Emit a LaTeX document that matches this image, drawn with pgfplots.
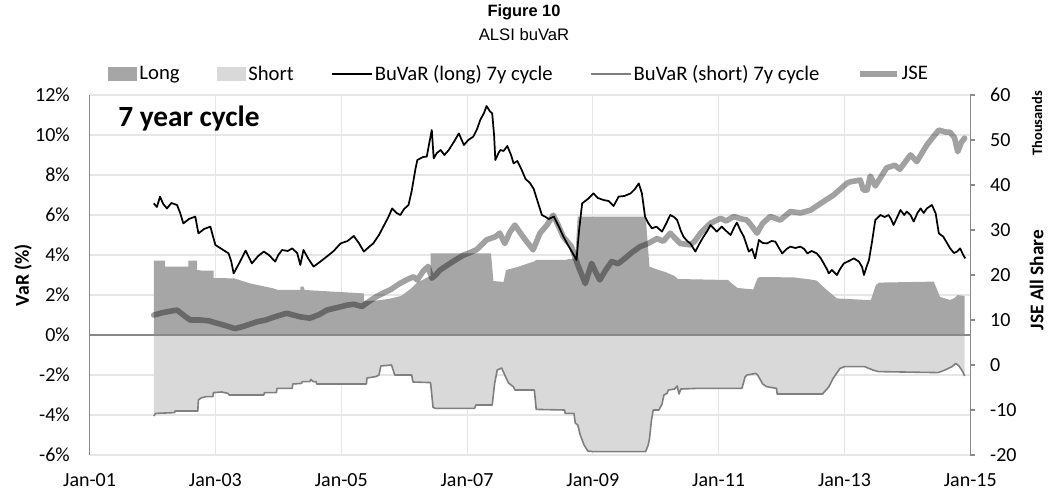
\documentclass[border=0pt]{standalone}
\usepackage{pgfplots}
\pgfplotsset{compat=1.18}
\usepackage{fontspec}
\setmainfont{Carlito}
\newfontfamily\arialfont{Liberation Sans}
\definecolor{longc}{HTML}{A6A6A6}
\definecolor{shortc}{HTML}{D9D9D9}
\definecolor{shortl}{HTML}{7F7F7F}
\definecolor{gridc}{HTML}{E6E6E6}
\definecolor{axisc}{HTML}{898989}
\newcommand\tfont{\fontsize{15}{18}\selectfont}
\newcommand\lfont{\fontsize{15.5}{18}\selectfont}
\begin{document}
\begin{tikzpicture}
\path[use as bounding box] (0pt,0pt) rectangle (786.75pt,-368.25pt);
\begin{axis}[
  at={(67.2pt,-341.25pt)}, anchor=south west,
  width=660.5pt, height=270pt, scale only axis,
  xmin=2001, xmax=2015, ymin=-6, ymax=12,
  axis y line*=left, axis x line*=bottom,
  x axis line style={draw=none},
  y axis line style={axisc, line width=0.8pt},
  xtick={2001,2003,2005,2007,2009,2011,2013,2015},
  xticklabels={Jan-01,Jan-03,Jan-05,Jan-07,Jan-09,Jan-11,Jan-13,Jan-15},
  ytick={-6,-4,-2,0,2,4,6,8,10,12},
  yticklabels={-6\%,-4\%,-2\%,0\%,2\%,4\%,6\%,8\%,10\%,12\%},
  major tick length=0pt,
  grid=major, major grid style={gridc, line width=0.8pt},
  tick label style={font=\tfont, inner sep=0pt},
  yticklabel style={anchor=east, xshift=-14.7pt},
  xticklabel style={anchor=north, yshift=-13.5pt},
  ylabel={VaR (\%)},
  ylabel style={font=\bfseries\fontsize{14.7}{18}\selectfont, at={(axis description cs:-0.0756,0.5)}, anchor=center},
  legend style={at={(0.4876,1.0583)}, anchor=center, draw=none, fill=none,
    legend columns=5, font=\lfont,
    /tikz/every even column/.append style={column sep=26.5pt},
    nodes={inner sep=1.5pt}},
  legend cell align=left,
]
% Long VaR area
\addplot[fill=longc, draw=none, legend image code/.code={\fill[longc] (0pt,-5pt) rectangle (22pt,5pt);}] coordinates {
(2002.02,0) (2002.02,3.72) (2002.20,3.72) (2002.20,3.42) (2002.57,3.42)
(2002.57,3.72) (2002.71,3.72) (2002.71,3.25) (2002.78,3.22) (2002.97,3.22)
(2002.97,2.85) (2003.30,2.83) (2003.55,2.58) (2003.92,2.33) (2004.00,2.25) (2004.35,2.25)
(2004.35,2.42) (2004.40,2.42) (2004.42,2.25) (2004.80,2.18) (2005.36,2.08)
(2005.36,1.70) (2005.55,1.72) (2005.75,1.80) (2005.95,1.95) (2006.10,2.30) (2006.20,2.60) (2006.35,2.85) (2006.42,2.95)
(2006.42,4.08) (2007.38,4.08) (2007.42,2.70) (2007.58,2.65) (2007.62,3.25) (2007.75,3.35)
(2008.06,3.67) (2008.10,3.75) (2008.55,3.75) (2008.72,3.85)
(2008.76,5.92) (2009.84,5.92) (2009.90,3.42) (2010.00,3.30) (2010.15,3.15) (2010.30,2.95)
(2010.35,2.80) (2011.15,2.75) (2011.20,2.60) (2011.30,2.35) (2011.55,2.28) (2011.62,2.85)
(2011.65,2.90) (2012.19,2.88) (2012.45,2.78) (2012.56,2.72) (2012.70,2.30) (2012.88,1.83)
(2013.36,1.75) (2013.42,1.75) (2013.50,2.50) (2013.55,2.62) (2014.42,2.67) (2014.48,2.20)
(2014.52,1.90) (2014.68,1.75) (2014.75,1.85) (2014.80,2.00) (2014.91,1.95) (2014.91,0)
};
\addlegendentry{Long}
% Short VaR area
\addplot[fill=shortc, draw=none, legend image code/.code={\fill[shortc] (0pt,-5pt) rectangle (22pt,5pt);}] coordinates {
(2002.02,0) (2002.02,-4.05) (2002.05,-3.92) (2002.35,-3.88) (2002.36,-3.80) (2002.72,-3.80)
(2002.73,-3.25) (2002.77,-3.15) (2002.85,-3.08) (2002.96,-3.08) (2002.97,-2.88) (2003.10,-2.85)
(2003.20,-2.92) (2003.22,-3.00) (2003.77,-3.00) (2003.78,-2.88) (2003.97,-2.88) (2003.98,-2.67)
(2004.22,-2.67) (2004.23,-2.45) (2004.37,-2.42) (2004.38,-2.33) (2004.50,-2.33) (2004.52,-2.22)
(2004.55,-2.33) (2004.60,-2.33) (2004.61,-2.45) (2005.40,-2.45) (2005.41,-2.15) (2005.55,-2.08)
(2005.60,-2.00) (2005.63,-1.55) (2005.80,-1.50) (2005.85,-2.00) (2006.12,-2.00) (2006.14,-2.35)
(2006.42,-2.38) (2006.46,-3.62) (2006.50,-3.67) (2007.12,-3.67) (2007.14,-3.50) (2007.40,-3.50)
(2007.44,-2.40) (2007.48,-1.75) (2007.55,-1.65) (2007.60,-2.00) (2007.66,-2.40) (2007.74,-2.60)
(2007.76,-2.75) (2008.07,-2.75) (2008.10,-3.72) (2008.55,-3.75) (2008.56,-3.92) (2008.70,-3.92)
(2008.72,-4.40) (2008.76,-4.50) (2008.80,-5.00) (2008.86,-5.50) (2008.92,-5.80) (2009.00,-5.83)
(2009.84,-5.83) (2009.88,-5.50) (2009.90,-5.20) (2009.93,-4.30) (2009.96,-3.75) (2010.05,-3.75)
(2010.10,-3.45) (2010.13,-3.00) (2010.18,-2.92) (2010.20,-2.75) (2010.30,-2.70) (2010.34,-2.55)
(2010.37,-2.95) (2010.40,-2.70) (2010.65,-2.67) (2011.37,-2.67) (2011.42,-2.10) (2011.45,-2.00)
(2011.59,-1.92) (2011.62,-2.00) (2011.70,-2.45) (2011.76,-2.58) (2011.92,-2.67) (2011.93,-2.95)
(2012.65,-2.95) (2012.75,-2.60) (2012.82,-2.17) (2012.90,-1.80) (2012.93,-1.67) (2013.00,-1.58)
(2013.32,-1.58) (2013.45,-1.75) (2013.54,-1.83) (2014.49,-1.88) (2014.60,-1.75) (2014.71,-1.58)
(2014.77,-1.42) (2014.82,-1.55) (2014.88,-1.83) (2014.91,-2.05) (2014.91,0)
};
\addlegendentry{Short}
% zero axis line
\addplot[axisc, line width=0.8pt, forget plot] coordinates {(2001,0) (2015,0)};
% BuVaR long
\addplot[black, line width=1.3pt, line join=round, legend image code/.code={\draw[black, line width=1.3pt] (0pt,0pt) -- (30pt,0pt);}] coordinates {
(2002.02,6.58) (2002.07,6.40) (2002.12,6.92) (2002.17,6.55) (2002.23,6.33) (2002.30,6.60) (2002.39,6.50)
(2002.44,6.10) (2002.49,5.58) (2002.58,5.80) (2002.68,5.92) (2002.73,5.08) (2002.82,5.30)
(2002.92,5.42) (2002.96,4.95) (2003.00,4.50) (2003.10,4.30) (2003.21,4.08) (2003.25,3.70)
(2003.29,3.08) (2003.38,3.60) (2003.48,4.22) (2003.53,3.90) (2003.58,3.58) (2003.68,3.95)
(2003.77,4.17) (2003.85,4.00) (2003.95,3.67) (2004.00,4.00) (2004.06,4.25) (2004.15,4.20)
(2004.22,4.33) (2004.30,4.10) (2004.35,3.50) (2004.40,4.25) (2004.48,3.80) (2004.56,3.42)
(2004.66,3.65) (2004.77,3.92) (2004.88,4.20) (2004.99,4.58) (2005.10,4.70) (2005.20,4.95)
(2005.28,4.60) (2005.36,4.17) (2005.44,4.40) (2005.51,4.58) (2005.60,5.00) (2005.67,5.42)
(2005.75,5.90) (2005.81,6.33) (2005.88,6.10) (2005.94,6.00) (2006.00,6.30) (2006.07,6.50)
(2006.12,7.20) (2006.15,7.75) (2006.18,8.30) (2006.21,8.75) (2006.30,8.90) (2006.36,8.92)
(2006.40,9.60) (2006.44,10.25) (2006.47,8.83) (2006.52,9.10) (2006.58,9.25) (2006.64,9.00)
(2006.71,9.25) (2006.80,9.70) (2006.87,10.08) (2006.95,9.50) (2007.02,9.75) (2007.10,9.92)
(2007.16,10.30) (2007.21,10.75) (2007.27,11.10) (2007.31,11.45) (2007.36,11.20) (2007.40,11.08)
(2007.43,10.00) (2007.45,8.75) (2007.50,9.10) (2007.53,9.25) (2007.58,9.20) (2007.64,9.45)
(2007.70,9.00) (2007.74,8.58) (2007.80,8.70) (2007.87,8.25) (2007.93,7.80) (2008.00,7.60)
(2008.06,7.30) (2008.12,6.70) (2008.19,6.00) (2008.25,5.90) (2008.30,5.80) (2008.38,5.92)
(2008.46,5.42) (2008.52,5.00) (2008.59,4.58) (2008.67,4.15) (2008.74,3.75) (2008.78,5.20)
(2008.83,6.58) (2008.92,6.80) (2009.01,7.08) (2009.08,6.85) (2009.17,6.75) (2009.25,6.70)
(2009.33,6.45) (2009.41,6.92) (2009.50,6.95) (2009.60,7.08) (2009.67,7.30) (2009.73,7.58)
(2009.78,7.08) (2009.83,5.92) (2009.88,5.60) (2009.94,5.33) (2010.01,5.42) (2010.10,5.17)
(2010.17,5.60) (2010.23,6.00) (2010.29,5.90) (2010.34,5.75) (2010.40,5.20) (2010.44,4.92)
(2010.50,4.70) (2010.55,4.58) (2010.63,4.17) (2010.70,4.60) (2010.76,4.92) (2010.82,5.20)
(2010.87,5.50) (2010.97,5.17) (2011.05,5.42) (2011.12,5.20) (2011.19,5.00) (2011.25,5.40)
(2011.29,5.62) (2011.35,5.20) (2011.40,4.92) (2011.48,4.17) (2011.53,4.30) (2011.58,3.83)
(2011.64,4.75) (2011.70,4.60) (2011.77,4.58) (2011.84,4.70) (2011.90,4.67) (2011.95,4.40)
(2012.01,4.08) (2012.08,4.30) (2012.14,4.42) (2012.22,4.35) (2012.30,4.42) (2012.36,4.30)
(2012.41,4.08) (2012.48,4.20) (2012.56,4.08) (2012.62,3.85) (2012.67,3.58) (2012.72,3.30)
(2012.75,3.08) (2012.80,3.25) (2012.88,3.00) (2012.93,3.30) (2012.99,3.58) (2013.07,3.70)
(2013.15,3.83) (2013.23,3.67) (2013.28,3.40) (2013.31,3.00) (2013.35,3.40) (2013.39,3.75)
(2013.44,4.70) (2013.49,5.75) (2013.57,6.00) (2013.64,5.90) (2013.70,6.00) (2013.74,5.80)
(2013.78,5.50) (2013.84,5.90) (2013.89,6.25) (2013.95,6.00) (2013.99,6.17) (2014.05,6.00)
(2014.10,5.67) (2014.16,6.10) (2014.21,6.33) (2014.26,6.10) (2014.31,6.33) (2014.39,6.50)
(2014.45,6.08) (2014.50,5.08) (2014.57,4.92) (2014.63,4.60) (2014.68,4.33) (2014.74,4.10)
(2014.79,4.17) (2014.84,4.33) (2014.88,4.05) (2014.92,3.83)
};
\addlegendentry{BuVaR (long) 7y cycle}
% BuVaR short line
\addplot[shortl, line width=1.2pt, line join=round, legend image code/.code={\draw[shortl, line width=1.2pt] (0pt,0pt) -- (30pt,0pt);}] coordinates {
(2002.02,-4.05) (2002.05,-3.92) (2002.35,-3.88) (2002.36,-3.80) (2002.72,-3.80)
(2002.73,-3.25) (2002.77,-3.15) (2002.85,-3.08) (2002.96,-3.08) (2002.97,-2.88) (2003.10,-2.85)
(2003.20,-2.92) (2003.22,-3.00) (2003.77,-3.00) (2003.78,-2.88) (2003.97,-2.88) (2003.98,-2.67)
(2004.22,-2.67) (2004.23,-2.45) (2004.37,-2.42) (2004.38,-2.33) (2004.50,-2.33) (2004.52,-2.22)
(2004.55,-2.33) (2004.60,-2.33) (2004.61,-2.45) (2005.40,-2.45) (2005.41,-2.15) (2005.55,-2.08)
(2005.60,-2.00) (2005.63,-1.55) (2005.80,-1.50) (2005.85,-2.00) (2006.12,-2.00) (2006.14,-2.35)
(2006.42,-2.38) (2006.46,-3.62) (2006.50,-3.67) (2007.12,-3.67) (2007.14,-3.50) (2007.40,-3.50)
(2007.44,-2.40) (2007.48,-1.75) (2007.55,-1.65) (2007.60,-2.00) (2007.66,-2.40) (2007.74,-2.60)
(2007.76,-2.75) (2008.07,-2.75) (2008.10,-3.72) (2008.55,-3.75) (2008.56,-3.92) (2008.70,-3.92)
(2008.72,-4.40) (2008.76,-4.50) (2008.80,-5.00) (2008.86,-5.50) (2008.92,-5.80) (2009.00,-5.83)
(2009.84,-5.83) (2009.88,-5.50) (2009.90,-5.20) (2009.93,-4.30) (2009.96,-3.75) (2010.05,-3.75)
(2010.10,-3.45) (2010.13,-3.00) (2010.18,-2.92) (2010.20,-2.75) (2010.30,-2.70) (2010.34,-2.55)
(2010.37,-2.95) (2010.40,-2.70) (2010.65,-2.67) (2011.37,-2.67) (2011.42,-2.10) (2011.45,-2.00)
(2011.59,-1.92) (2011.62,-2.00) (2011.70,-2.45) (2011.76,-2.58) (2011.92,-2.67) (2011.93,-2.95)
(2012.65,-2.95) (2012.75,-2.60) (2012.82,-2.17) (2012.90,-1.80) (2012.93,-1.67) (2013.00,-1.58)
(2013.32,-1.58) (2013.45,-1.75) (2013.54,-1.83) (2014.49,-1.88) (2014.60,-1.75) (2014.71,-1.58)
(2014.77,-1.42) (2014.82,-1.55) (2014.88,-1.83) (2014.91,-2.05)
};
\addlegendentry{BuVaR (short) 7y cycle}
\addlegendimage{legend image code/.code={\draw[black, draw opacity=0.37, line width=4.2pt] (0pt,0pt) -- (28pt,0pt);}}
\addlegendentry{JSE}
\end{axis}
\begin{axis}[
  at={(67.2pt,-341.25pt)}, anchor=south west,
  width=660.5pt, height=270pt, scale only axis,
  xmin=2001, xmax=2015, ymin=-20, ymax=60,
  axis y line*=right, axis x line=none,
  y axis line style={axisc, line width=0.8pt},
  ytick={-20,-10,0,10,20,30,40,50,60},
  yticklabels={-20,-10,0,10,20,30,40,50,60},
  tick align=outside, major tick length=3.75pt,
  tick style={axisc, line width=0.8pt},
  yticklabel style={font=\tfont, inner sep=0pt, anchor=west, xshift=11pt},
  ylabel={JSE All Share},
  ylabel style={font=\bfseries\fontsize{14.5}{18}\selectfont, at={(axis description cs:1.0754,0.486)}, anchor=center},
]
\addplot[black, draw opacity=0.37, line width=4.2pt, line join=round, line cap=round] coordinates {
(2002.02,11.1) (2002.15,11.6) (2002.30,12.0) (2002.39,12.2) (2002.50,11.0) (2002.60,10.0)
(2002.76,10.0) (2002.90,9.8) (2003.02,9.3) (2003.15,8.8) (2003.31,8.1) (2003.45,8.6)
(2003.66,9.6) (2003.80,10.0) (2003.92,10.6) (2004.13,11.5) (2004.35,10.7) (2004.50,10.4)
(2004.65,11.2) (2004.77,12.2) (2004.95,12.8) (2005.09,13.3) (2005.20,13.5) (2005.33,13.0)
(2005.45,14.2) (2005.56,15.2) (2005.70,16.2) (2005.78,16.7) (2005.93,18.1) (2006.05,19.0)
(2006.15,19.6) (2006.21,18.9) (2006.30,20.8) (2006.38,21.9) (2006.44,19.3) (2006.50,20.0)
(2006.57,21.1) (2006.70,22.3) (2006.80,23.2) (2006.94,24.4) (2007.05,25.0) (2007.15,25.6)
(2007.31,27.8) (2007.45,28.5) (2007.52,29.3) (2007.60,27.0) (2007.68,29.5) (2007.76,31.1)
(2007.89,28.5) (2008.05,25.6) (2008.16,29.3) (2008.27,31.1) (2008.37,33.3) (2008.45,31.0)
(2008.53,28.5) (2008.66,26.3) (2008.77,21.9) (2008.88,18.1) (2008.98,22.6) (2009.05,20.5)
(2009.11,18.9) (2009.20,21.0) (2009.30,23.0) (2009.40,22.5) (2009.51,23.7) (2009.62,25.0)
(2009.75,26.3) (2009.88,27.0) (2010.02,28.1) (2010.12,27.5) (2010.23,29.3) (2010.39,27.0)
(2010.55,26.7) (2010.62,27.5) (2010.71,29.3) (2010.87,31.5) (2011.03,32.6) (2011.12,32.0)
(2011.24,33.0) (2011.35,32.5) (2011.45,32.2) (2011.52,31.0) (2011.61,29.3) (2011.70,31.5)
(2011.82,33.0) (2011.98,32.2) (2012.14,34.1) (2012.30,33.8) (2012.46,34.4) (2012.62,35.9)
(2012.83,37.8) (2013.04,40.4) (2013.09,40.7) (2013.25,41.1) (2013.30,38.9) (2013.36,38.9)
(2013.41,42.0) (2013.49,39.8) (2013.67,43.8) (2013.80,44.4) (2013.88,43.5) (2014.05,46.7)
(2014.15,45.2) (2014.31,48.9) (2014.40,50.5) (2014.50,52.2) (2014.60,51.8) (2014.68,51.7)
(2014.75,50.5) (2014.80,47.4) (2014.86,49.5) (2014.91,50.4)
};
\end{axis}
\node[font=\arialfont\bfseries\fontsize{12.3}{14}\selectfont, anchor=base] at (393pt,-12.4pt) {Figure 10};
\node[font=\arialfont\fontsize{12.5}{14}\selectfont, anchor=base] at (393pt,-30.75pt) {ALSI buVaR};
\node[font=\bfseries\fontsize{22}{26}\selectfont, anchor=base west, inner sep=0pt] at (88.5pt,-95pt) {7 year cycle};
\node[font=\bfseries\fontsize{10.8}{12}\selectfont, rotate=90] at (777.75pt,-92.5pt) {Thousands};
\end{tikzpicture}
\end{document}
